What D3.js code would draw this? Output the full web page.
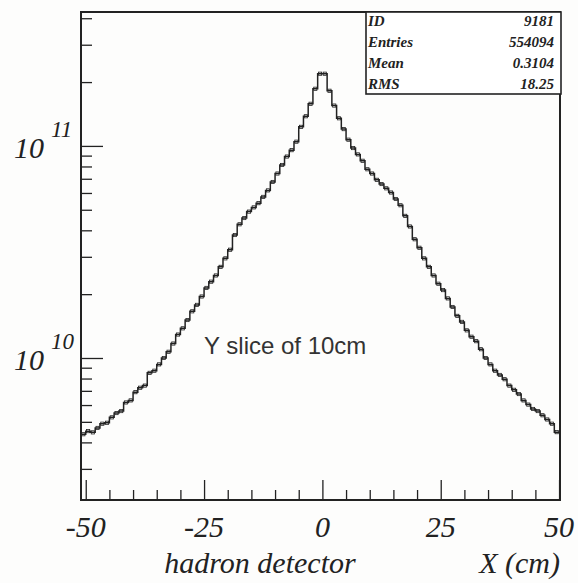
<!DOCTYPE html>
<html>
<head>
<meta charset="utf-8">
<script src="https://cdn.jsdelivr.net/npm/d3@7"></script>
<style>
  body { margin: 0; background: #fff; }
  svg { display: block; }
</style>
</head>
<body>
<div id="chart"></div>
<script>
// histogram contents, 1 cm bins from -51 to 50
const binStart = -51
const binWidth = 1
const counts = [
  4.37e9, 4.52e9, 4.46e9, 4.68e9, 4.90e9, 4.95e9, 5.25e9, 5.50e9, 5.62e9, 6.17e9,
  6.31e9, 6.90e9, 7.24e9, 7.41e9, 8.51e9, 8.71e9, 9.33e9, 1.00e10, 1.07e10, 1.17e10,
  1.29e10, 1.38e10, 1.51e10, 1.66e10, 1.78e10, 1.95e10, 2.14e10, 2.29e10, 2.45e10, 2.69e10,
  2.95e10, 3.24e10, 3.80e10, 4.27e10, 4.57e10, 4.90e10, 5.13e10, 5.37e10, 5.75e10, 6.17e10,
  6.76e10, 7.41e10, 8.13e10, 8.91e10, 9.55e10, 1.047e11, 1.23e11, 1.38e11, 1.58e11, 1.86e11,
  2.19e11,
  2.19e11, 1.82e11, 1.55e11, 1.35e11, 1.20e11, 1.07e11, 9.77e10, 9.12e10, 8.51e10, 7.76e10,
  7.41e10, 6.92e10, 6.61e10, 6.31e10, 6.03e10, 5.62e10, 5.25e10, 4.68e10, 4.17e10, 3.63e10,
  3.31e10, 2.95e10, 2.69e10, 2.45e10, 2.24e10, 2.09e10, 1.91e10, 1.74e10, 1.58e10, 1.48e10,
  1.35e10, 1.26e10, 1.20e10, 1.10e10, 1.00e10, 9.33e9, 8.71e9, 8.32e9, 7.94e9, 7.41e9,
  7.08e9, 6.76e9, 6.31e9, 6.03e9, 5.75e9, 5.62e9, 5.37e9, 5.13e9, 4.90e9, 4.47e9
]

const xTicksMajor = [-50, -25, 0, 25, 50]
const xTicksMinor = [-45, -40, -35, -30, -20, -15, -10, -5, 5, 10, 15, 20, 30, 35, 40, 45]
const yTicksMajor = [1e11, 1e10]
const yTicksMinor = [3e9, 4e9, 5e9, 6e9, 7e9, 8e9, 9e9,
  2e10, 3e10, 4e10, 5e10, 6e10, 7e10, 8e10, 9e10, 2e11, 3e11, 4e11]
const yExponents = ['11', '10']

const statLabels = ['ID', 'Entries', 'Mean', 'RMS']
const statValues = ['9181', '554094', '0.3104', '18.25']

const annotation = 'Y slice of 10cm'
const xTitleLeft = 'hadron detector'
const xTitleRight = 'X (cm)'

const margin = { top: 12, left: 81, right: 18, bottom: 83 }
const fullWidth = 578
const fullHeight = 583
const width = fullWidth - margin.left - margin.right
const height = fullHeight - margin.top - margin.bottom

const ink = '#222'
const serif = '"Liberation Serif", "DejaVu Serif", serif'

const svg = d3
  .select('#chart')
  .append('svg')
  .attr('width', fullWidth)
  .attr('height', fullHeight)

svg.append('rect')
  .attr('width', fullWidth)
  .attr('height', fullHeight)
  .attr('fill', '#fdfdfc')

const g = svg.append('g')
  .attr('transform', 'translate(' + margin.left + ',' + margin.top + ')')

const xPositionScale = d3.scaleLinear().domain([-51, 50.2]).range([0, width])
const yPositionScale = d3.scaleLog().domain([2.14e9, 4.28e11]).range([height, 0])

// step outline of the histogram
const stepPoints = []
counts.forEach((c, i) => {
  const lo = binStart + i * binWidth
  stepPoints.push([lo, c])
  stepPoints.push([lo + binWidth, c])
})

const line = d3.line()
  .x(d => xPositionScale(d[0]))
  .y(d => yPositionScale(d[1]))

g.append('path')
  .datum(stepPoints)
  .attr('d', line)
  .attr('fill', 'none')
  .attr('stroke', ink)
  .attr('stroke-width', 1.5)

// small open boxes at bin centres
g.selectAll('.marker')
  .data(counts)
  .enter()
  .append('rect')
  .attr('class', 'marker')
  .attr('x', (d, i) => xPositionScale(binStart + (i + 0.5) * binWidth) - 1.6)
  .attr('y', d => yPositionScale(d) - 1.6)
  .attr('width', 3.2)
  .attr('height', 3.2)
  .attr('fill', 'none')
  .attr('stroke', ink)
  .attr('stroke-width', 0.8)

// ticks pointing into the frame
function styleAxis(sel) {
  sel.select('.domain').remove()
  sel.selectAll('line').attr('stroke', ink).attr('stroke-width', 1.3)
  sel.selectAll('text').remove()
}

g.append('g')
  .attr('transform', `translate(0,${height})`)
  .call(d3.axisTop(xPositionScale).tickValues(xTicksMajor).tickSize(20).tickFormat(''))
  .call(styleAxis)

g.append('g')
  .attr('transform', `translate(0,${height})`)
  .call(d3.axisTop(xPositionScale).tickValues(xTicksMinor).tickSize(10).tickFormat(''))
  .call(styleAxis)

g.append('g')
  .call(d3.axisRight(yPositionScale).tickValues(yTicksMajor).tickSize(22).tickFormat(''))
  .call(styleAxis)

g.append('g')
  .call(d3.axisRight(yPositionScale).tickValues(yTicksMinor).tickSize(11).tickFormat(''))
  .call(styleAxis)

// frame
g.append('rect')
  .attr('width', width)
  .attr('height', height)
  .attr('fill', 'none')
  .attr('stroke', ink)
  .attr('stroke-width', 2)

// x tick labels
g.selectAll('.x-label')
  .data(xTicksMajor)
  .enter()
  .append('text')
  .attr('class', 'x-label')
  .attr('x', d => xPositionScale(d))
  .attr('y', height + 37)
  .attr('text-anchor', 'middle')
  .attr('font-family', serif)
  .attr('font-style', 'italic')
  .attr('font-size', 30)
  .attr('fill', ink)
  .text(d => d)

// y tick labels: 10 with exponent
const yLabels = g.selectAll('.y-label')
  .data(yTicksMajor)
  .enter()
  .append('text')
  .attr('class', 'y-label')
  .attr('x', -67)
  .attr('y', d => yPositionScale(d) + 12)
  .attr('font-family', serif)
  .attr('font-style', 'italic')
  .attr('font-size', 30)
  .attr('fill', ink)

yLabels.append('tspan').text('10')
yLabels.append('tspan')
  .attr('dx', 7)
  .attr('dy', -21)
  .attr('font-size', 23)
  .text((d, i) => yExponents[i])

// x titles
g.append('text')
  .attr('x', xPositionScale(-33.4))
  .attr('y', height + 73)
  .attr('font-family', serif)
  .attr('font-style', 'italic')
  .attr('font-size', 30)
  .attr('fill', ink)
  .text(xTitleLeft)

g.append('text')
  .attr('x', width)
  .attr('y', height + 73)
  .attr('text-anchor', 'end')
  .attr('font-family', serif)
  .attr('font-style', 'italic')
  .attr('font-size', 30)
  .attr('fill', ink)
  .text(xTitleRight)

// annotation inside the plot
g.append('text')
  .attr('x', xPositionScale(-25))
  .attr('y', yPositionScale(1.05e10))
  .attr('font-family', '"Liberation Sans", Arial, sans-serif')
  .attr('font-size', 24)
  .attr('fill', '#333')
  .text(annotation)

// statistics box
const boxX = 285
const boxW = width - boxX + 1
const rowH = 21
const stats = g.append('g').attr('transform', `translate(${boxX},0)`)

stats.append('rect')
  .attr('width', boxW)
  .attr('height', 82)
  .attr('fill', '#fff')
  .attr('stroke', ink)
  .attr('stroke-width', 1.6)

stats.selectAll('.stat-label')
  .data(statLabels)
  .enter()
  .append('text')
  .attr('x', 2)
  .attr('y', (d, i) => 14 + i * rowH)
  .attr('font-family', serif)
  .attr('font-style', 'italic')
  .attr('font-weight', 'bold')
  .attr('font-size', 15)
  .attr('fill', ink)
  .text(d => d)

stats.selectAll('.stat-value')
  .data(statValues)
  .enter()
  .append('text')
  .attr('x', boxW - 7)
  .attr('y', (d, i) => 14 + i * rowH)
  .attr('text-anchor', 'end')
  .attr('font-family', serif)
  .attr('font-style', 'italic')
  .attr('font-weight', 'bold')
  .attr('font-size', 15)
  .attr('fill', ink)
  .text(d => d)
</script>
</body>
</html>
